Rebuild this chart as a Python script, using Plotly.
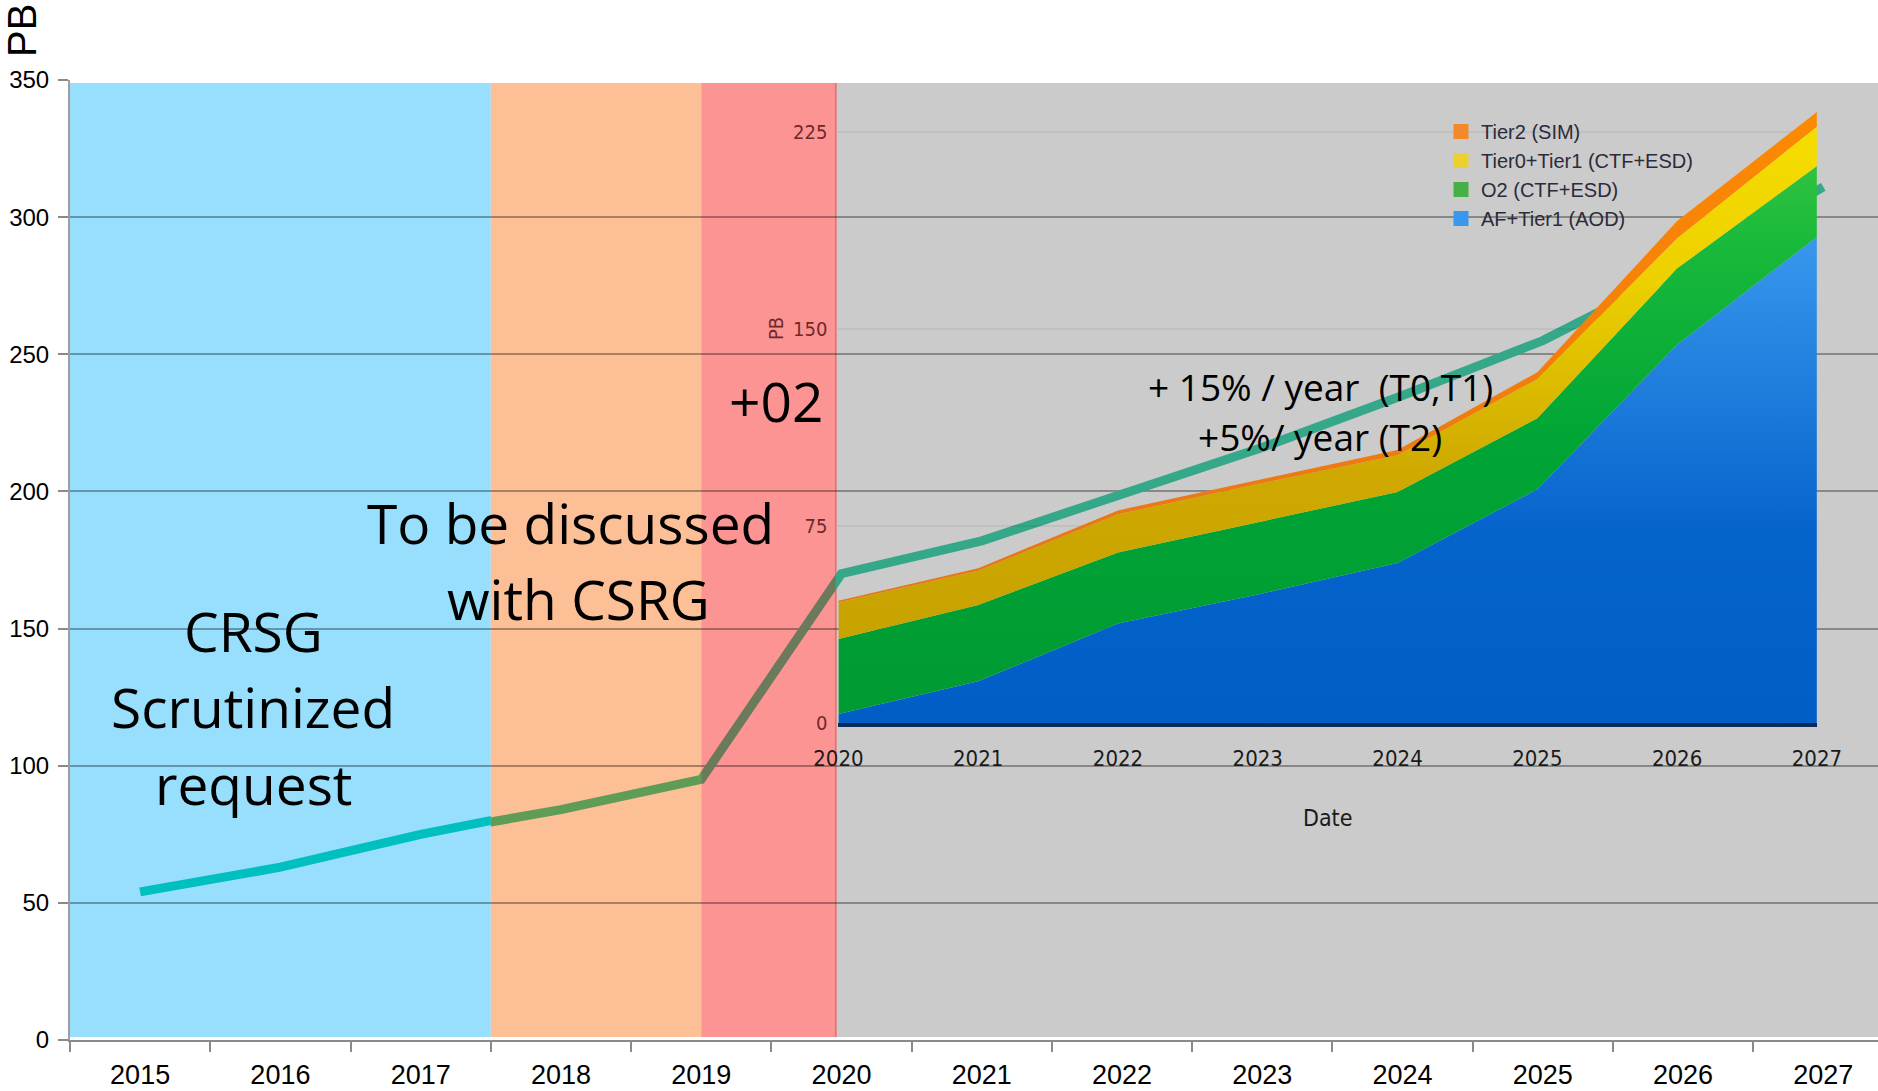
import plotly.graph_objects as go

# ---------------- data ----------------
YEARS = ["2015", "2016", "2017", "2018", "2019", "2020", "2021",
         "2022", "2023", "2024", "2025", "2026", "2027"]
REQUEST_PB = [54, 63, 75, 84, 95, 170, 182, 199, 216, 235, 255, 281, 311]
Y_TICKS = [0, 50, 100, 150, 200, 250, 300, 350]

INSET_YEARS = [2020, 2021, 2022, 2023, 2024, 2025, 2026, 2027]
AF_TIER1_AOD = [3.6, 16, 38, 49, 61, 89, 144, 185]
O2_CTF_ESD = [28.5, 29, 27, 27.5, 27, 27, 29, 27]
T0_T1_CTF_ESD = [14, 13, 14.5, 14.5, 14, 15, 11.5, 15]
TIER2_SIM = [0.5, 1, 1.5, 1.5, 2, 2.5, 6.5, 5.5]
INSET_Y_TICKS = [0, 75, 150, 225]

# ---------------- geometry ----------------
W, H = 1878, 1091
M_L, M_R, M_T, M_B = 70, 0, 80, 51
PW, PH = W - M_L - M_R, H - M_T - M_B
X_RANGE = [-0.5, 12.39]
X_SPAN = X_RANGE[1] - X_RANGE[0]


def paper_x(px):
    return (px - M_L) / PW


def paper_y(py):
    return (H - M_B - py) / PH


# period bands: (start, end) in category units, band colour, line colour
ZONES = [
    (-0.5, 2.5, "#97dffc", "#00bfbf"),
    (2.5, 4.0, "#fcbf96", "#5f9c55"),
    (4.0, 4.96, "#fd9494", "#6b7a5a"),
    (4.96, 12.39, "#cbcbcb", "#35a88a"),
]

NARROW = "Liberation Sans Narrow, DejaVu Sans Condensed, Arial Narrow, Liberation Sans, sans-serif"
SANS = "Liberation Sans, Arial, sans-serif"
BIG = "Open Sans, Noto Sans, sans-serif"

fig = go.Figure()

# main subplot carries the category axis and the grid
fig.add_trace(go.Scatter(x=YEARS, y=REQUEST_PB, mode="none", hoverinfo="skip",
                         showlegend=False, xaxis="x", yaxis="y"))

layout = dict(
    width=W, height=H,
    margin=dict(l=M_L, r=M_R, t=M_T, b=M_B, pad=0, autoexpand=False),
    paper_bgcolor="white",
    plot_bgcolor="rgba(0,0,0,0)",
    font=dict(family=SANS, color="black"),
    xaxis=dict(type="category", categoryorder="array", categoryarray=YEARS,
               range=X_RANGE, domain=[0, 1], anchor="y",
               showline=True, linecolor="#8a8a8a", linewidth=2,
               ticks="outside", tickson="boundaries", ticklen=10,
               tickcolor="#8a8a8a", tickwidth=2, showgrid=False,
               tickfont=dict(size=27, family=SANS, color="black"),
               ticklabelstandoff=10, fixedrange=True),
    yaxis=dict(range=[0, 350], tickvals=Y_TICKS, domain=[0, 1], anchor="x",
               showgrid=True, gridcolor="rgba(0,0,0,0.33)", gridwidth=2,
               showline=True, linecolor="rgba(40,40,40,0.45)", linewidth=2,
               ticks="outside", ticklen=10, tickcolor="#8a8a8a", tickwidth=2,
               zeroline=False, tickfont=dict(size=24, family=SANS, color="black"),
               ticklabelstandoff=4, fixedrange=True),
    shapes=[],
    annotations=[],
    showlegend=True,
)

# band backgrounds, beneath the grid
for x0, x1, fill, _ in ZONES:
    layout["shapes"].append(dict(type="rect", xref="x", yref="y", layer="below",
                                 x0=x0, x1=x1, y0=1.1, y1=348.9,
                                 fillcolor=fill, line=dict(width=0)))
# border of the O2 band
layout["shapes"].append(dict(type="line", xref="x", yref="y", layer="below",
                             x0=4.96, x1=4.96, y0=1.1, y1=348.9,
                             line=dict(color="#e46a6a", width=1.5)))

# request line, drawn once per band so each band tints it
for i, (x0, x1, _, lc) in enumerate(ZONES):
    n = i + 2
    dom = [(x0 - X_RANGE[0]) / X_SPAN, (x1 - X_RANGE[0]) / X_SPAN]
    layout[f"xaxis{n}"] = dict(type="category", categoryorder="array",
                               categoryarray=YEARS, range=[x0, x1], domain=dom,
                               anchor=f"y{n}", visible=False, fixedrange=True)
    layout[f"yaxis{n}"] = dict(range=[0, 350], domain=[0, 1], anchor=f"x{n}",
                               visible=False, fixedrange=True)
    fig.add_trace(go.Scatter(x=YEARS, y=REQUEST_PB, mode="lines",
                             line=dict(color=lc, width=9),
                             hoverinfo="skip", showlegend=False,
                             xaxis=f"x{n}", yaxis=f"y{n}"))

# ---------------- inset: Run 3 disk breakdown ----------------
IN_X0, IN_X1 = 838.4, 1816.9          # 2020 .. 2027
IN_Y0, IN_PPU = 723.4, 2.6298          # baseline and pixels per PB
IN_TOP = 240
in_xdom = [paper_x(IN_X0), paper_x(IN_X1)]
in_ydom = [paper_y(IN_Y0), paper_y(IN_Y0 - IN_TOP * IN_PPU)]

layout["xaxis6"] = dict(range=[2020, 2027], domain=in_xdom, anchor="y6",
                        tickvals=INSET_YEARS, tickformat="d", showgrid=False,
                        showline=True, linecolor="#0c2b57", linewidth=4,
                        ticks="", ticklabelstandoff=12, zeroline=False,
                        tickfont=dict(size=22, family=NARROW, color="#1a1a1a"),
                        fixedrange=True)
layout["yaxis6"] = dict(range=[0, IN_TOP], domain=in_ydom, anchor="x6",
                        tickvals=INSET_Y_TICKS, showgrid=True,
                        gridcolor="rgba(0,0,0,0.05)", gridwidth=1.5,
                        zeroline=False, showline=False, ticks="",
                        ticklabelstandoff=10,
                        tickfont=dict(size=20, family=NARROW, color="#6e2a2a"),
                        fixedrange=True)

areas = [
    ("AF+Tier1 (AOD)", AF_TIER1_AOD,
     [[0, "#005ec6"], [0.3, "#0563cc"], [0.8, "#3c9bef"], [1, "#4aa5f5"]], "#3a98ec"),
    ("O2 (CTF+ESD)", O2_CTF_ESD,
     [[0, "#009a33"], [0.45, "#00a535"], [0.75, "#18b93b"], [1, "#44ca44"]], "#46b046"),
    ("Tier0+Tier1 (CTF+ESD)", T0_T1_CTF_ESD,
     [[0, "#c4a000"], [0.4, "#cfa900"], [0.7, "#ecd000"], [1, "#f8e000"]], "#ecd030"),
    ("Tier2 (SIM)", TIER2_SIM,
     [[0, "#e0701a"], [1, "#ff8a00"]], "#f28a2a"),
]
for name, vals, cs, _ in areas:
    fig.add_trace(go.Scatter(
        x=INSET_YEARS, y=vals, name=name, stackgroup="run3", mode="lines",
        line=dict(width=0),
        fillgradient=dict(type="vertical", colorscale=cs, start=0, stop=IN_TOP),
        hoverinfo="skip", showlegend=False, xaxis="x6", yaxis="y6"))

# legend swatches, top entry first
for name, _, _, sw in reversed(areas):
    fig.add_trace(go.Scatter(x=[None], y=[None], mode="markers", name=name,
                             marker=dict(symbol="square", size=15, color=sw),
                             xaxis="x6", yaxis="y6"))

layout["legend"] = dict(xref="paper", yref="paper",
                        x=paper_x(1441), y=paper_y(112),
                        xanchor="left", yanchor="top",
                        bgcolor="rgba(0,0,0,0)", traceorder="normal",
                        font=dict(size=20, family=SANS, color="#2b2b3b"),
                        itemsizing="trace", tracegroupgap=0)

# ---------------- text ----------------
def note(text, px, py, size, family=BIG, color="black", angle=0):
    layout["annotations"].append(dict(
        text=text, xref="paper", yref="paper", x=paper_x(px), y=paper_y(py),
        xanchor="center", yanchor="middle", showarrow=False, textangle=angle,
        font=dict(size=size, family=family, color=color)))


note("PB", 22, 31, 40, family=SANS, angle=-90)
note("CRSG", 253, 630, 55)
note("Scrutinized", 253, 706, 55)
note("request", 253, 783, 55)
note("To be discussed", 570, 522, 55)
note("with CSRG", 578, 598, 55)
note("+02", 776, 400, 55)
note("+ 15% / year \u00a0(T0,T1)", 1320, 386, 37)
note("+5%/ year (T2)", 1320, 437, 37)
note("PB", 776, 329, 20, family=NARROW, color="#6e2a2a", angle=-90)
note("Date", 1327, 818, 23, family=NARROW, color="#1a1a1a")

fig.update_layout(**layout)
fig.write_html("out.html")
